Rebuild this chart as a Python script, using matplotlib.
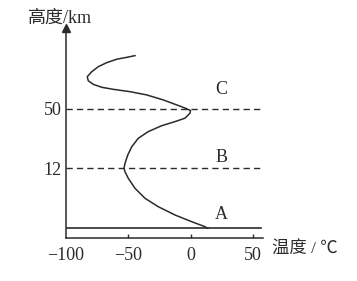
import numpy as np
import matplotlib
matplotlib.use("Agg")
import matplotlib.pyplot as plt

plt.rcParams['font.family'] = ['Liberation Serif', 'Noto Sans CJK SC', 'DejaVu Sans']

# temperature profile (temp in C, height in km)
temp = [13.8, 11.6, 1.0, -12.4, -25.8, -36.4, -44.4, -49.8, -52.4, -53.2,
        -52.4, -50.2, -47.0, -41.8, -33.8, -23.0, -12.4, -4.4, -0.4, 0.0,
        -4.4, -11.0, -21.8, -35.0, -48.4, -61.8, -71.0, -77.8, -81.8, -82.6,
        -79.0, -73.8, -67.0, -59.0, -51.0, -44.4]
height = [0, 0.32, 1.32, 2.66, 4.32, 6.0, 8.0, 10.0, 11.32, 12.0,
          15.2, 20.5, 25.8, 31.2, 35.5, 39.3, 41.9, 44.1, 47.3, 49.0,
          50.6, 52.6, 55.8, 59.0, 61.1, 62.6, 63.9, 65.8, 68.1, 70.7,
          73.9, 77.1, 79.7, 81.9, 83.1, 84.2]

layer_lines = [12, 50]
layer_names = ['A', 'B', 'C']
layer_label_h = [2.7, 19.2, 62.2]
xticks = [-100, -50, 0, 50]

# schematic height axis: 0-12 km stretched, above 12 km compressed
h_pts = [-100, 0, 12, 50, 500]
p_pts = [-500, 0, 60, 119.3, 119.3 + 450 * 1.56]

def fwd(h):
    return np.interp(h, h_pts, p_pts)

def inv(p):
    return np.interp(p, p_pts, h_pts)

W, H = 357, 281
fig = plt.figure(figsize=(W / 100, H / 100), dpi=100)
ax = fig.add_axes([65.5 / W, 43.3 / H, (263 - 65.5) / W, (237.7 - 28) / H])
ax.set_yscale('function', functions=(fwd, inv))
ax.set_xlim(-100, 58)
ax.set_ylim(-1.88, 101.9)

col = '#2b2b2b'
ax.plot(temp, height, color=col, lw=1.1, solid_joinstyle='round')
ax.plot([-100, 56], [0, 0], color=col, lw=1.2)
for h in layer_lines:
    ax.plot([-100, 56], [h, h], color=col, lw=1.0, ls=(0, (4.5, 3)))

for name, h in zip(layer_names, layer_label_h):
    ax.text(25, h, name, ha='center', va='center', fontsize=13, color=col)

for s in ['top', 'right']:
    ax.spines[s].set_visible(False)
for s in ['left', 'bottom']:
    ax.spines[s].set_color(col)
    ax.spines[s].set_linewidth(1.1)

ax.set_xticks(xticks[1:])
ax.set_xticklabels([])
ax.tick_params(axis='x', direction='in', length=3, color=col, width=1)
ax.set_yticks(layer_lines)
ax.set_yticklabels([str(v) for v in layer_lines], fontsize=13, color=col)
ax.tick_params(axis='y', length=0, pad=3)

# x tick labels incl. -100 at the origin
for v in xticks:
    ax.text(v, -0.045, str(v).replace('-', '\u2212'), transform=ax.get_xaxis_transform(),
            ha='center', va='top', fontsize=13, color=col, clip_on=False)

# arrow on top of the y axis
ax.plot(-100, 1, marker='^', markersize=6, color=col, transform=ax.get_xaxis_transform(),
        clip_on=False)

fig.text(28 / W, 1 - 18 / H, '高度/km', ha='left', va='center', fontsize=13, color=col)
fig.text(272 / W, 1 - 250 / H, '温度 / ℃', ha='left', va='center', fontsize=12.5, color=col)

fig.savefig('out.png', dpi=100, facecolor='white')
